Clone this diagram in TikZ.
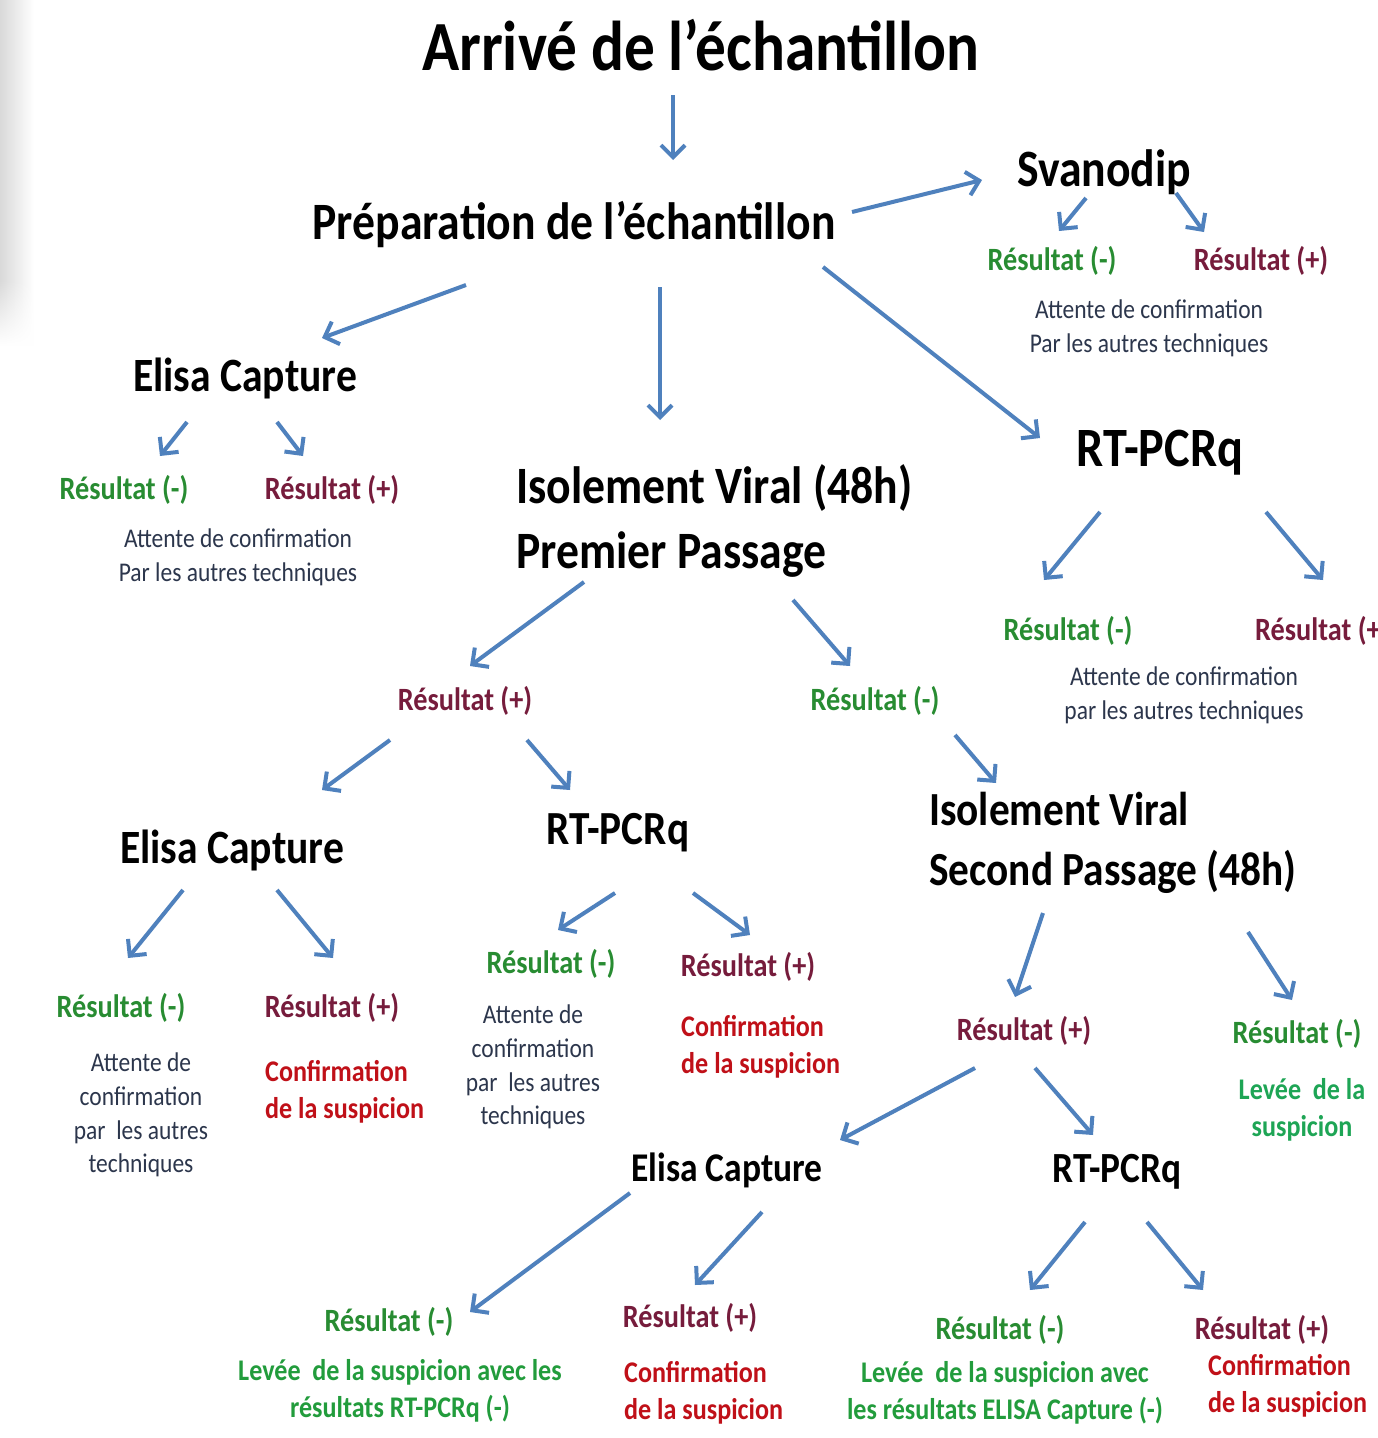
\documentclass[tikz,border=0pt]{standalone}
\usepackage{fontspec}
\setmainfont{Carlito}[FakeStretch=0.87]
\usetikzlibrary{arrows.meta,fadings}
\definecolor{resgreen}{RGB}{40,140,50}
\definecolor{resmaroon}{RGB}{118,28,60}
\definecolor{confred}{RGB}{192,16,24}
\definecolor{levgreen}{RGB}{34,156,60}
\definecolor{levgreenb}{RGB}{30,165,85}
\definecolor{waitgray}{RGB}{44,54,76}
\definecolor{arrblue}{RGB}{79,129,189}
\tikzset{
  head/.style={inner sep=0pt, font=\bfseries\fontsize{52.5}{65}\selectfont},
  headel/.style={inner sep=0pt, font=\bfseries\fontsize{47.8}{55}\selectfont},
  headrt/.style={inner sep=0pt, font=\bfseries\fontsize{55.5}{60}\selectfont},
  headm/.style={inner sep=0pt, font=\bfseries\fontsize{47.5}{60}\selectfont},
  heads/.style={inner sep=0pt, font=\bfseries\fontsize{43}{50}\selectfont},
  heades/.style={inner sep=0pt, font=\bfseries\fontsize{40.8}{50}\selectfont},
  resneg/.style={inner sep=0pt, text=resgreen, font=\bfseries\fontsize{32.5}{38}\selectfont},
  respos/.style={inner sep=0pt, text=resmaroon, font=\bfseries\fontsize{32.5}{38}\selectfont},
  waittxt/.style={inner sep=0pt, text=waitgray, align=center, font=\fontsize{27}{33.6}\selectfont},
  conftxt/.style={inner sep=0pt, text=confred, align=left, font=\bfseries\fontsize{30}{37}\selectfont},
  levtxt/.style={inner sep=0pt, text=levgreen, align=center, font=\bfseries\fontsize{30}{37}\selectfont},
  arr/.style={draw=arrblue, line width=4pt, -{Straight Barb[length=12pt,width=24pt]}}
}
\begin{document}
\begin{tikzpicture}[x=1pt,y=-1pt]
\useasboundingbox (0,0) rectangle (1378,1438);
\clip (0,0) rectangle (1378,1438);
\fill[white] (0,0) rectangle (1378,1438);
\shade[left color=black!15, right color=white] (0,0) rectangle (34,280);
\shade[left color=black!15, right color=white, path fading=south] (0,280) rectangle (34,345);

% ---- nodes ----
\node[inner sep=0pt, font=\bfseries\fontsize{70.5}{80}\selectfont] (title) at (701,45) {Arrivé de l’échantillon};
\node[head] (prep) at (574,225) {Préparation de l’échantillon};
\node[head] (svan) at (1104,172) {Svanodip};
\node[resneg] (svneg) at (1052,261) {Résultat (-)};
\node[respos] (svpos) at (1261,261) {Résultat (+)};
\node[waittxt] (svwait) at (1149,328) {Attente de confirmation\\Par les autres techniques};

\node[headel] (elisa1) at (245,378) {Elisa Capture};
\node[resneg] (e1neg) at (124,490) {Résultat (-)};
\node[respos] (e1pos) at (332,490) {Résultat (+)};
\node[waittxt] (e1wait) at (238,557) {Attente de confirmation\\Par les autres techniques};

\node[head, align=left, anchor=west] (iso1) at (516,521) {Isolement Viral (48h)\\Premier Passage};

\node[headrt] (rt1) at (1160,453) {RT-PCRq};
\node[resneg] (r1neg) at (1068,631) {Résultat (-)};
\node[respos, anchor=west] (r1pos) at (1255,631) {Résultat (+)};
\node[waittxt] (r1wait) at (1184,695) {Attente de confirmation\\par les autres techniques};

\node[respos] (isopos) at (465,701) {Résultat (+)};
\node[resneg] (isoneg) at (875,701) {Résultat (-)};

\node[headel] (elisa2) at (232,850) {Elisa Capture};
\node[headm] (rt2) at (618,833) {RT-PCRq};
\node[headm, align=left, anchor=west] (iso2) at (929,843) {Isolement Viral\\Second Passage (48h)};

\node[resneg] (e2neg) at (121,1008) {Résultat (-)};
\node[respos] (e2pos) at (332,1008) {Résultat (+)};
\node[waittxt] (e2wait) at (141,1115) {Attente de\\confirmation\\par\ \ les autres\\techniques};
\node[conftxt, anchor=west] (e2conf) at (265,1092) {Confirmation\\de la suspicion};

\node[resneg] (r2neg) at (551,964) {Résultat (-)};
\node[respos] (r2pos) at (748,967) {Résultat (+)};
\node[waittxt] (r2wait) at (533,1067) {Attente de\\confirmation\\par\ \ les autres\\techniques};
\node[conftxt, anchor=west] (r2conf) at (681,1047) {Confirmation\\de la suspicion};

\node[respos] (i2pos) at (1024,1031) {Résultat (+)};
\node[resneg] (i2neg) at (1297,1034) {Résultat (-)};
\node[levtxt, text=levgreenb] (i2lev) at (1302,1110) {Levée\ \ de la\\suspicion};

\node[heades] (elisa3) at (727,1170) {Elisa Capture};
\node[heads] (rt3) at (1117,1172) {RT-PCRq};

\node[resneg] (e3neg) at (389,1322) {Résultat (-)};
\node[respos] (e3pos) at (690,1318) {Résultat (+)};
\node[levtxt] (e3lev) at (400,1391) {Levée\ \ de la suspicion avec les\\résultats RT-PCRq (-)};
\node[conftxt, anchor=west] (e3conf) at (624,1393) {Confirmation\\de la suspicion};

\node[resneg] (r3neg) at (1000,1330) {Résultat (-)};
\node[respos] (r3pos) at (1262,1330) {Résultat (+)};
\node[levtxt] (r3lev) at (1005,1393) {Levée\ \ de la suspicion avec\\les résultats ELISA Capture (-)};
\node[conftxt, anchor=west] (r3conf) at (1208,1386) {Confirmation\\de la suspicion};

% ---- connector end points ----
\coordinate (t-p1) at (673,95);    \coordinate (t-p2) at (673,160);
\coordinate (p-s1) at (852,212);   \coordinate (p-s2) at (982,180);
\coordinate (s-n1) at (1086,198);  \coordinate (s-n2) at (1059,231);
\coordinate (s-p1) at (1176,193);  \coordinate (s-p2) at (1204,232);
\coordinate (p-e1) at (466,285);   \coordinate (p-e2) at (322,338);
\coordinate (p-i1) at (660,287);   \coordinate (p-i2) at (660,420);
\coordinate (p-r1) at (823,267);   \coordinate (p-r2) at (1040,438);
\coordinate (e-n1) at (187,422);   \coordinate (e-n2) at (160,456);
\coordinate (e-p1) at (277,422);   \coordinate (e-p2) at (303,456);
\coordinate (r-n1) at (1100,512);  \coordinate (r-n2) at (1044,580);
\coordinate (r-p1) at (1266,512);  \coordinate (r-p2) at (1323,580);
\coordinate (i-p1) at (584,582);   \coordinate (i-p2) at (470,666);
\coordinate (i-n1) at (793,600);   \coordinate (i-n2) at (850,666);
\coordinate (ip-e1) at (390,740);  \coordinate (ip-e2) at (322,790);
\coordinate (ip-r1) at (527,740);  \coordinate (ip-r2) at (570,790);
\coordinate (in-i1) at (955,735);  \coordinate (in-i2) at (996,783);
\coordinate (e2-n1) at (183,890);  \coordinate (e2-n2) at (128,958);
\coordinate (e2-p1) at (277,890);  \coordinate (e2-p2) at (333,958);
\coordinate (r2-n1) at (615,893);  \coordinate (r2-n2) at (558,930);
\coordinate (r2-p1) at (693,893);  \coordinate (r2-p2) at (750,935);
\coordinate (i2-p1) at (1043,913); \coordinate (i2-p2) at (1015,997);
\coordinate (i2-n1) at (1248,932); \coordinate (i2-n2) at (1292,1000);
\coordinate (ip2-e1) at (975,1068); \coordinate (ip2-e2) at (840,1140);
\coordinate (ip2-r1) at (1035,1068); \coordinate (ip2-r2) at (1093,1135);
\coordinate (e3-n1) at (630,1193); \coordinate (e3-n2) at (470,1312);
\coordinate (e3-p1) at (762,1212); \coordinate (e3-p2) at (695,1285);
\coordinate (r3-n1) at (1085,1222); \coordinate (r3-n2) at (1030,1290);
\coordinate (r3-p1) at (1147,1222); \coordinate (r3-p2) at (1203,1290);

% ---- connectors ----
\foreach \a in {t-p,p-s,s-n,s-p,p-e,p-i,p-r,e-n,e-p,r-n,r-p,i-p,i-n,ip-e,ip-r,in-i,e2-n,e2-p,r2-n,r2-p,i2-p,i2-n,ip2-e,ip2-r,e3-n,e3-p,r3-n,r3-p}
  \draw[arr] (\a1) -- (\a2);
\end{tikzpicture}
\end{document}
